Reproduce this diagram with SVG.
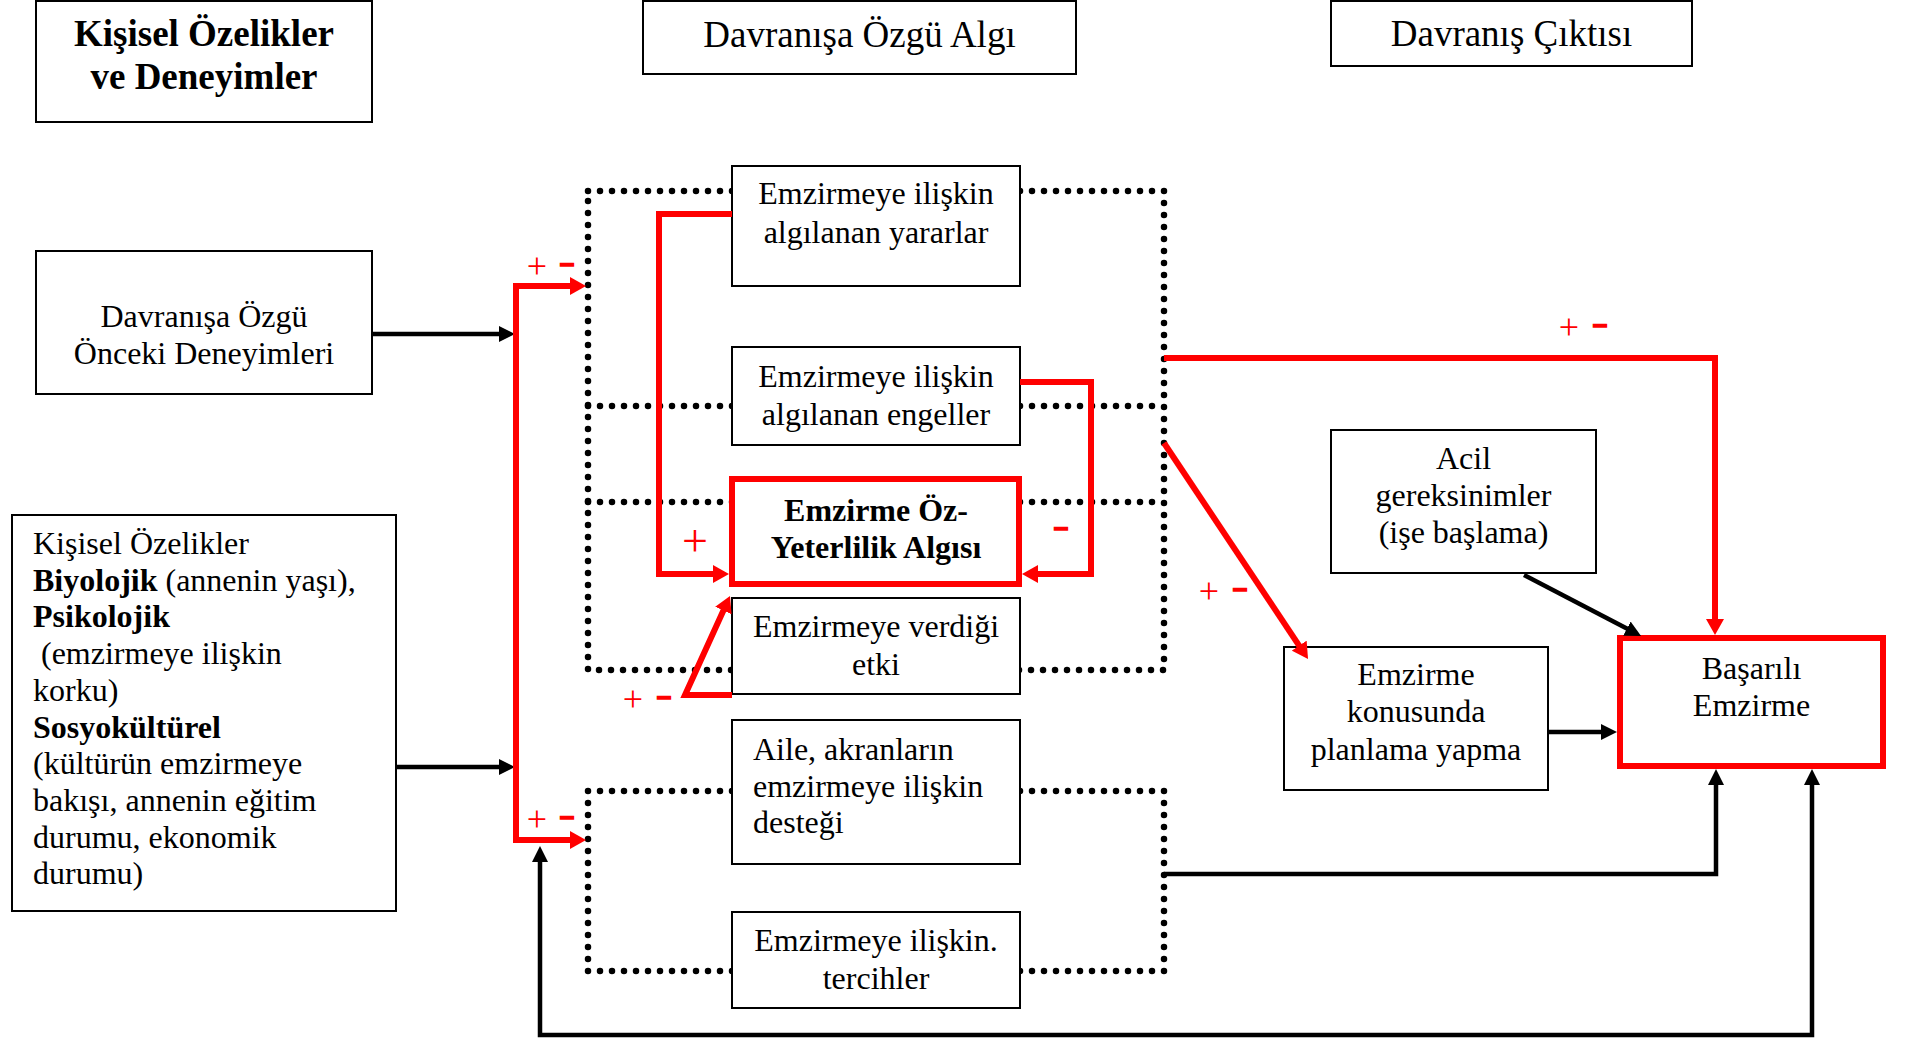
<svg xmlns="http://www.w3.org/2000/svg" width="1912" height="1039" viewBox="0 0 1912 1039">
  <style>
    .box{fill:#fff;stroke:#000;stroke-width:2}
    .key{fill:#fff;stroke:#ff0000;stroke-width:6}
    text{font-family:"Liberation Serif","Times New Roman",serif;fill:#000}
    .t{font-size:32px}
    .h{font-size:37px}
    .c{text-anchor:middle}
    .b{font-weight:bold}
    .dots{fill:none;stroke:#000;stroke-width:6.5;stroke-linecap:round;stroke-dasharray:0 12}
    .blk{fill:none;stroke:#000;stroke-width:4.5}
    .red{fill:none;stroke:#ff0000;stroke-width:6}
    .sign{fill:#ff0000;text-anchor:middle}
    .plus{font-size:36px}
    .minus{font-family:"Liberation Sans",Arial,sans-serif;font-weight:bold;font-size:26px;stroke:#ff0000;stroke-width:1.5}
  </style>
  <defs>
    <marker id="arrow-k" markerUnits="userSpaceOnUse" markerWidth="18" markerHeight="18" viewBox="0 0 18 18" refX="8" refY="8" orient="auto-start-reverse">
      <path d="M0,0 L16,8 L0,16 Z" fill="#000"/>
    </marker>
    <marker id="arrow-r" markerUnits="userSpaceOnUse" markerWidth="18" markerHeight="18" viewBox="0 0 18 18" refX="8" refY="9" orient="auto-start-reverse">
      <path d="M0,0 L16,9 L0,18 Z" fill="#ff0000"/>
    </marker>
  </defs>

  <!-- dotted frames grouping the perception factors -->
  <g id="perception-groups">
    <path class="dots" d="M588,191 H1164 V670 H588 Z"/>
    <path class="dots" d="M588,406 H1164"/>
    <path class="dots" d="M588,502 H1164"/>
    <path class="dots" d="M588,791 H1164 V971 H588 Z"/>
  </g>

  <!-- column headers -->
  <g id="header-personal">
    <rect class="box" x="36" y="1" width="336" height="121"/>
    <text class="h b c" x="204" y="46">Kişisel Özelikler</text>
    <text class="h b c" x="204" y="89">ve Deneyimler</text>
  </g>
  <g id="header-perception">
    <rect class="box" x="643" y="1" width="433" height="73"/>
    <text class="h c" x="859.5" y="47">Davranışa Özgü Algı</text>
  </g>
  <g id="header-outcome">
    <rect class="box" x="1331" y="1" width="361" height="65"/>
    <text class="h c" x="1511.5" y="46">Davranış Çıktısı</text>
  </g>

  <!-- left column -->
  <g id="prior-experience">
    <rect class="box" x="36" y="251" width="336" height="143"/>
    <text class="t c" x="204" y="327">Davranışa Özgü</text>
    <text class="t c" x="204" y="364">Önceki Deneyimleri</text>
  </g>
  <g id="personal-factors">
    <rect class="box" x="12" y="515" width="384" height="396"/>
    <text class="t" x="33" y="554">Kişisel Özelikler</text>
    <text class="t" x="33" y="590.7"><tspan class="b">Biyolojik</tspan> (annenin yaşı),</text>
    <text class="t b" x="33" y="627.4">Psikolojik</text>
    <text class="t" x="41" y="664.1">(emzirmeye ilişkin</text>
    <text class="t" x="33" y="700.8">korku)</text>
    <text class="t b" x="33" y="737.5">Sosyokültürel</text>
    <text class="t" x="33" y="774.2">(kültürün emzirmeye</text>
    <text class="t" x="33" y="810.9">bakışı, annenin eğitim</text>
    <text class="t" x="33" y="847.6">durumu, ekonomik</text>
    <text class="t" x="33" y="884.3">durumu)</text>
  </g>

  <!-- middle column -->
  <g id="perceived-benefits">
    <rect class="box" x="732" y="166" width="288" height="120"/>
    <text class="t c" x="876" y="204">Emzirmeye ilişkin</text>
    <text class="t c" x="876" y="243">algılanan yararlar</text>
  </g>
  <g id="perceived-barriers">
    <rect class="box" x="732" y="347" width="288" height="98"/>
    <text class="t c" x="876" y="387">Emzirmeye ilişkin</text>
    <text class="t c" x="876" y="425">algılanan engeller</text>
  </g>
  <g id="self-efficacy">
    <rect class="key" x="732" y="479" width="287" height="105"/>
    <text class="t b c" x="876" y="521">Emzirme Öz-</text>
    <text class="t b c" x="876" y="558">Yeterlilik Algısı</text>
  </g>
  <g id="effect">
    <rect class="box" x="732" y="598" width="288" height="96"/>
    <text class="t c" x="876" y="637">Emzirmeye verdiği</text>
    <text class="t c" x="876" y="675">etki</text>
  </g>
  <g id="social-support">
    <rect class="box" x="732" y="720" width="288" height="144"/>
    <text class="t" x="753" y="760">Aile, akranların</text>
    <text class="t" x="753" y="797">emzirmeye ilişkin</text>
    <text class="t" x="753" y="833">desteği</text>
  </g>
  <g id="preferences">
    <rect class="box" x="732" y="912" width="288" height="96"/>
    <text class="t c" x="876" y="951">Emzirmeye ilişkin.</text>
    <text class="t c" x="876" y="989">tercihler</text>
  </g>

  <!-- right column -->
  <g id="competing-demands">
    <rect class="box" x="1331" y="430" width="265" height="143"/>
    <text class="t c" x="1463.5" y="469">Acil</text>
    <text class="t c" x="1463.5" y="506">gereksinimler</text>
    <text class="t c" x="1463.5" y="543">(işe başlama)</text>
  </g>
  <g id="planning">
    <rect class="box" x="1284" y="647" width="264" height="143"/>
    <text class="t c" x="1416" y="685">Emzirme</text>
    <text class="t c" x="1416" y="722">konusunda</text>
    <text class="t c" x="1416" y="760">planlama yapma</text>
  </g>
  <g id="successful-breastfeeding">
    <rect class="key" x="1620" y="638" width="263" height="128"/>
    <text class="t c" x="1751.5" y="679">Başarılı</text>
    <text class="t c" x="1751.5" y="716">Emzirme</text>
  </g>

  <!-- connectors -->
  <g id="connectors">
    <path class="blk" d="M372,334 H507" marker-end="url(#arrow-k)"/>
    <path class="blk" d="M396,767 H507" marker-end="url(#arrow-k)"/>
    <path class="blk" d="M540,854 V1035 H1812 V777" marker-start="url(#arrow-k)" marker-end="url(#arrow-k)"/>
    <path class="blk" d="M1164,874 H1716 V777" marker-end="url(#arrow-k)"/>
    <path class="blk" d="M1548,732 H1609" marker-end="url(#arrow-k)"/>
    <path class="blk" d="M1524,575 L1634,632.3" marker-end="url(#arrow-k)"/>

    <path class="red" d="M578,286 H516 V840 H578" marker-start="url(#arrow-r)" marker-end="url(#arrow-r)"/>
    <path class="red" d="M732,214 H659 V574 H721" marker-end="url(#arrow-r)"/>
    <path class="red" d="M1020,382 H1091 V574 H1030" marker-end="url(#arrow-r)"/>
    <path class="red" d="M732,695 H685 L726.7,603.3" marker-end="url(#arrow-r)"/>
    <path class="red" d="M1164,358 H1715 V627" marker-end="url(#arrow-r)"/>
    <path class="red" d="M1164,443 L1303.6,652.3" marker-end="url(#arrow-r)"/>
  </g>

  <!-- effect signs on the links -->
  <g id="signs">
    <text class="sign plus" x="537" y="278">+</text>
    <text class="sign minus" x="567" y="272">–</text>
    <text class="sign plus" x="537" y="831">+</text>
    <text class="sign minus" x="567" y="825">–</text>
    <text class="sign" style="font-size:46px" x="695" y="556">+</text>
    <text class="sign minus" x="1061" y="536">–</text>
    <text class="sign plus" x="633" y="710.5">+</text>
    <text class="sign minus" x="664" y="705">–</text>
    <text class="sign plus" x="1209" y="603">+</text>
    <text class="sign minus" x="1240" y="597">–</text>
    <text class="sign plus" x="1569" y="339">+</text>
    <text class="sign minus" x="1600" y="333">–</text>
  </g>
</svg>
